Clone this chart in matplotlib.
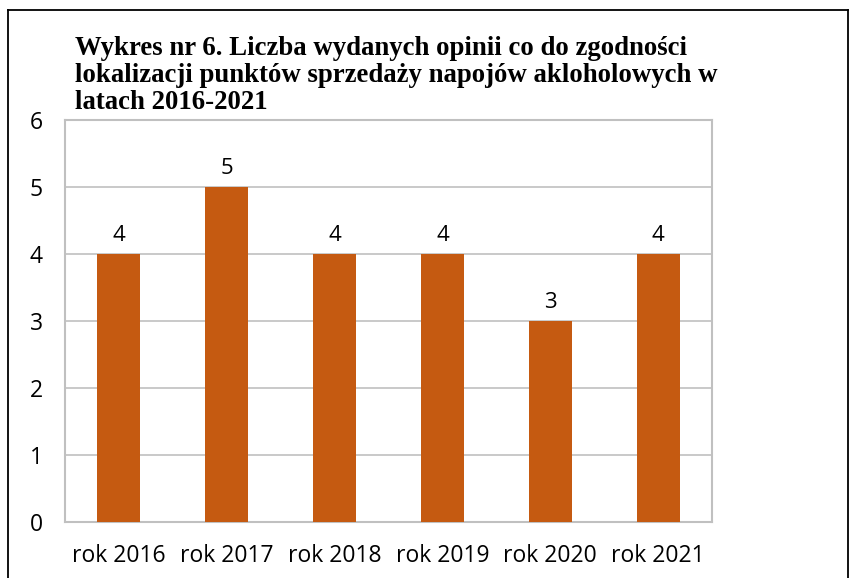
import matplotlib
matplotlib.use('Agg')
import matplotlib.pyplot as plt
from matplotlib.lines import Line2D
import numpy as np

# Data
categories = ['rok 2016', 'rok 2017', 'rok 2018', 'rok 2019', 'rok 2020', 'rok 2021']
values = [4, 5, 4, 4, 3, 4]
title = ('Wykres nr 6. Liczba wydanych opinii co do zgodności\n'
         'lokalizacji punktów sprzedaży napojów akloholowych w\n'
         'latach 2016-2021')

bar_color = '#C55A11'
grid_color = '#C0C0C0'

fig = plt.figure(figsize=(8.52, 5.78), dpi=100)
W, H = 852, 578
ax = fig.add_axes([65 / W, 1 - 522 / H, (712 - 65) / W, (522 - 120) / H])

x = np.arange(len(categories))
ax.bar(x, values, width=0.4, color=bar_color, zorder=3)

for xi, v in zip(x, values):
    ax.annotate(str(v), (xi, v), xytext=(0, 6), textcoords='offset points',
                ha='center', va='bottom', fontsize=16, family='Open Sans',
                color='#000000')

ax.set_xlim(-0.5, len(categories) - 0.5)
ax.set_ylim(0, 6)
ax.set_yticks(range(0, 7))
ax.set_xticks(x)
ax.set_xticklabels(categories)
ax.yaxis.grid(True, color=grid_color, linewidth=1.2, zorder=0)
ax.tick_params(length=0, labelsize=16.5)
ax.tick_params(axis='x', pad=16)
ax.tick_params(axis='y', pad=16)
for lab in ax.get_xticklabels() + ax.get_yticklabels():
    lab.set_family('Open Sans')
for s in ax.spines.values():
    s.set_color(grid_color)
    s.set_linewidth(1.5)

fig.text(75 / W, 1 - 36 / H, title, ha='left', va='top', fontsize=19.3,
         family='Liberation Serif', fontweight='bold', linespacing=1.1)

# outer frame (left, top, right)
fig.add_artist(Line2D([8 / W, 8 / W], [0, 1 - 10 / H], color='black', lw=1.3,
                      transform=fig.transFigure))
fig.add_artist(Line2D([8 / W, 848 / W], [1 - 10 / H, 1 - 10 / H], color='black',
                      lw=1.3, transform=fig.transFigure))
fig.add_artist(Line2D([848 / W, 848 / W], [0, 1 - 10 / H], color='black', lw=1.3,
                      transform=fig.transFigure))

fig.savefig('out.png', dpi=100)
